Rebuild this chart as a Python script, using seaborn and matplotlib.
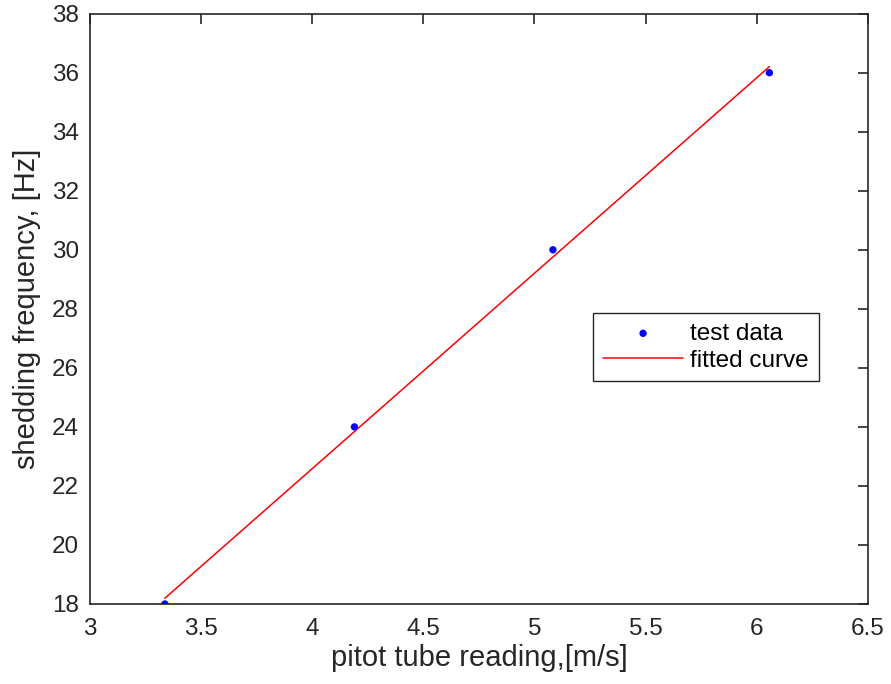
import numpy as np
import pandas as pd
import matplotlib
matplotlib.use("Agg")
import matplotlib.pyplot as plt
import seaborn as sns

# measured pitot tube speeds [m/s] and vortex shedding frequencies [Hz]
pitot_speed = [3.337, 4.19, 5.083, 6.057]
shedding_freq = [18, 24, 30, 36]

x_ticks = [3, 3.5, 4, 4.5, 5, 5.5, 6, 6.5]
y_ticks = [18, 20, 22, 24, 26, 28, 30, 32, 34, 36, 38]

sns.set_style("white")
plt.rcParams["font.family"] = ["Liberation Sans", "DejaVu Sans"]

data = pd.DataFrame({"speed": pitot_speed, "freq": shedding_freq})

# least-squares straight line through the test data
slope, intercept = np.polyfit(data["speed"], data["freq"], 1)
fit = pd.DataFrame({"speed": [min(pitot_speed), max(pitot_speed)]})
fit["freq"] = slope * fit["speed"] + intercept

fig = plt.figure(figsize=(8.91, 6.84), dpi=100)
ax = fig.add_axes([0.101, 0.117, 0.873, 0.863])

sns.scatterplot(data=data, x="speed", y="freq", ax=ax, color="#0000ff",
                s=28, edgecolor="none", label="test data", zorder=3)
sns.lineplot(data=fit, x="speed", y="freq", ax=ax, color="#ff0000",
             linewidth=1.1, label="fitted curve", zorder=2)

dark = "#262626"
ax.set_xlim(3, 6.5)
ax.set_ylim(18, 38)
ax.set_xticks(x_ticks)
ax.set_xticklabels([f"{t:g}" for t in x_ticks])
ax.set_yticks(y_ticks)
ax.set_yticklabels([f"{t:g}" for t in y_ticks])
ax.tick_params(direction="in", length=7, width=1.2, colors=dark,
               labelsize=17.5, top=True, right=True, pad=8)
ax.tick_params(axis="x", pad=10)
for sp in ax.spines.values():
    sp.set_visible(True)
    sp.set_color(dark)
    sp.set_linewidth(1.2)

ax.set_xlabel("pitot tube reading,[m/s]", fontsize=21, color=dark, labelpad=3)
ax.set_ylabel("shedding frequency, [Hz]", fontsize=21, color=dark, labelpad=8)

leg = ax.legend(loc="upper left", bbox_to_anchor=(0.647, 0.493),
                borderaxespad=0, fontsize=17.5, handlelength=3.3,
                handletextpad=0.3, frameon=True, fancybox=False,
                framealpha=1, edgecolor=dark, borderpad=0.4,
                labelspacing=0.2)
leg.get_frame().set_linewidth(1.0)
for t in leg.get_texts():
    t.set_color("#000000")

fig.savefig("out.png", dpi=100)
